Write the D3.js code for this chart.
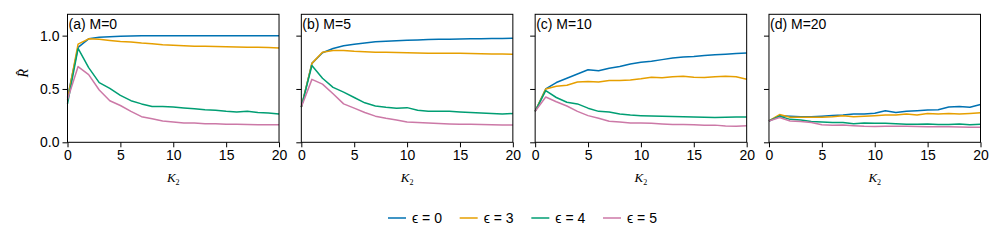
<!DOCTYPE html>
<html>
<head>
<meta charset="utf-8">
<script src="https://cdn.jsdelivr.net/npm/d3@7"></script>
<style>
  body { margin: 0; background: #fff; }
  text { font-family: "Liberation Sans", Arial, sans-serif; }
</style>
</head>
<body>
<svg id="chart" width="996" height="249"></svg>
<script>
// K2 values
var k2 = d3.range(0, 21);

var panelTitles = ["(a) M=0", "(b) M=5", "(c) M=10", "(d) M=20"];
var seriesNames = ["ϵ = 0", "ϵ = 3", "ϵ = 4", "ϵ = 5"];
var colors = ["#0072B2", "#E69F00", "#009E73", "#CC79A7"];
var xTicks = [0, 5, 10, 15, 20];
var yTicks = [0.0, 0.5, 1.0];

// panel (a) M=0
var a_eps0 = [0.42, 0.89, 0.97, 0.985, 0.99, 0.995, 0.997, 0.998, 0.999, 1.0, 1.0, 1.0, 1.0, 1.0, 1.0, 1.0, 1.0, 1.0, 1.0, 1.0, 1.0];
var a_eps3 = [0.40, 0.92, 0.97, 0.965, 0.955, 0.945, 0.94, 0.93, 0.925, 0.915, 0.91, 0.905, 0.90, 0.90, 0.897, 0.895, 0.893, 0.89, 0.89, 0.888, 0.885];
var a_eps4 = [0.36, 0.88, 0.70, 0.56, 0.505, 0.44, 0.39, 0.36, 0.335, 0.335, 0.33, 0.322, 0.315, 0.305, 0.30, 0.29, 0.285, 0.29, 0.28, 0.275, 0.265];
var a_eps5 = [0.40, 0.71, 0.635, 0.49, 0.39, 0.345, 0.29, 0.24, 0.22, 0.20, 0.19, 0.182, 0.18, 0.175, 0.175, 0.17, 0.17, 0.168, 0.165, 0.165, 0.165];

// panel (b) M=5
var b_eps0 = [0.33, 0.74, 0.84, 0.88, 0.905, 0.92, 0.932, 0.942, 0.948, 0.953, 0.957, 0.96, 0.963, 0.965, 0.967, 0.968, 0.97, 0.971, 0.972, 0.973, 0.975];
var b_eps3 = [0.33, 0.74, 0.845, 0.86, 0.86, 0.853, 0.85, 0.845, 0.845, 0.843, 0.84, 0.838, 0.835, 0.835, 0.835, 0.834, 0.832, 0.83, 0.828, 0.827, 0.825];
var b_eps4 = [0.33, 0.72, 0.60, 0.515, 0.47, 0.42, 0.37, 0.34, 0.328, 0.32, 0.325, 0.30, 0.29, 0.29, 0.292, 0.285, 0.28, 0.275, 0.27, 0.265, 0.27];
var b_eps5 = [0.33, 0.59, 0.545, 0.455, 0.36, 0.32, 0.28, 0.245, 0.225, 0.21, 0.19, 0.186, 0.18, 0.176, 0.172, 0.17, 0.17, 0.168, 0.165, 0.163, 0.163];

// panel (c) M=10
var c_eps0 = [0.29, 0.50, 0.56, 0.60, 0.64, 0.68, 0.67, 0.695, 0.71, 0.735, 0.75, 0.76, 0.775, 0.79, 0.80, 0.805, 0.813, 0.82, 0.826, 0.832, 0.837];
var c_eps3 = [0.29, 0.50, 0.525, 0.535, 0.565, 0.57, 0.565, 0.58, 0.58, 0.585, 0.595, 0.61, 0.605, 0.615, 0.62, 0.61, 0.607, 0.615, 0.62, 0.615, 0.592];
var c_eps4 = [0.29, 0.485, 0.42, 0.375, 0.36, 0.32, 0.29, 0.285, 0.265, 0.255, 0.25, 0.246, 0.244, 0.242, 0.24, 0.238, 0.235, 0.232, 0.235, 0.237, 0.237];
var c_eps5 = [0.29, 0.425, 0.38, 0.34, 0.29, 0.25, 0.225, 0.197, 0.19, 0.182, 0.18, 0.178, 0.172, 0.166, 0.166, 0.165, 0.161, 0.161, 0.152, 0.151, 0.155];

// panel (d) M=20
var d_eps0 = [0.20, 0.25, 0.245, 0.24, 0.24, 0.245, 0.252, 0.256, 0.266, 0.266, 0.272, 0.295, 0.28, 0.292, 0.296, 0.302, 0.305, 0.33, 0.336, 0.328, 0.355];
var d_eps3 = [0.20, 0.26, 0.235, 0.235, 0.235, 0.236, 0.24, 0.25, 0.24, 0.245, 0.25, 0.255, 0.256, 0.265, 0.255, 0.27, 0.265, 0.27, 0.265, 0.27, 0.277];
var d_eps4 = [0.20, 0.245, 0.215, 0.21, 0.195, 0.19, 0.185, 0.185, 0.175, 0.18, 0.178, 0.178, 0.175, 0.17, 0.17, 0.172, 0.168, 0.168, 0.172, 0.165, 0.17];
var d_eps5 = [0.20, 0.232, 0.20, 0.195, 0.185, 0.165, 0.16, 0.162, 0.155, 0.15, 0.148, 0.15, 0.15, 0.15, 0.148, 0.145, 0.145, 0.145, 0.143, 0.14, 0.14];

var panelData = [
  [a_eps0, a_eps3, a_eps4, a_eps5],
  [b_eps0, b_eps3, b_eps4, b_eps5],
  [c_eps0, c_eps3, c_eps4, c_eps5],
  [d_eps0, d_eps3, d_eps4, d_eps5]
];

var svg = d3.select("#chart");

var plotLeft = 67.5, plotRight = 980.5, plotTop = 14.3, plotBottom = 142.3;
var gap = 22.3;
var panelW = (plotRight - plotLeft - 3 * gap) / 4;
var serif = '"Liberation Serif", "DejaVu Serif", serif';

var y = d3.scaleLinear().domain([0, 1.2]).range([plotBottom, plotTop]);

panelData.forEach(function(series, i) {
  var x0 = plotLeft + i * (panelW + gap);
  var x = d3.scaleLinear().domain([0, 20]).range([x0, x0 + panelW]);
  var g = svg.append("g");

  // lines
  var line = d3.line().x((d, j) => x(k2[j])).y(d => y(d));
  series.forEach(function(vals, s) {
    g.append("path")
      .datum(vals)
      .attr("fill", "none")
      .attr("stroke", colors[s])
      .attr("stroke-width", 1.5)
      .attr("stroke-linejoin", "round")
      .attr("d", line);
  });

  // frame
  g.append("rect")
    .attr("x", x0).attr("y", plotTop)
    .attr("width", panelW).attr("height", plotBottom - plotTop)
    .attr("fill", "none").attr("stroke", "#000").attr("stroke-width", 1);

  // x axis
  var xa = g.append("g")
    .attr("transform", "translate(0," + plotBottom + ")")
    .call(d3.axisBottom(x).tickValues(xTicks).tickSize(5).tickPadding(3).tickFormat(d3.format("d")));
  xa.select(".domain").remove();
  xa.selectAll("text").attr("font-size", 14).attr("fill", "#000");

  // y axis
  var ya = g.append("g")
    .attr("transform", "translate(" + x0 + ",0)")
    .call(d3.axisLeft(y).tickValues(yTicks).tickSize(5).tickPadding(3)
      .tickFormat(i === 0 ? d3.format(".1f") : ""));
  ya.select(".domain").remove();
  ya.selectAll("text").attr("font-size", 14).attr("fill", "#000");

  // title
  g.append("text")
    .attr("x", x0 + 1).attr("y", 29)
    .attr("font-size", 14)
    .text(panelTitles[i]);

  // x label K2
  var xl = g.append("text")
    .attr("x", x0 + panelW / 2).attr("y", 182)
    .attr("text-anchor", "middle")
    .style("font-family", serif)
    .style("font-style", "italic")
    .attr("font-size", 13);
  xl.append("tspan").text("K");
  xl.append("tspan").attr("font-size", 8).attr("dy", 2.5).style("font-style", "normal").text("2");
});

// y label R-hat
svg.append("text")
  .attr("transform", "translate(28," + ((plotTop + plotBottom) / 2 - 5) + ") rotate(-90)")
  .attr("text-anchor", "middle")
  .style("font-family", serif)
  .style("font-style", "italic")
  .attr("font-size", 14)
  .text("R\u0302");

// legend
var legendX = d3.scaleLinear().domain([0, 3]).range([388, 603]);
var leg = svg.append("g").selectAll("g").data(seriesNames).join("g")
  .attr("transform", (d, i) => "translate(" + legendX(i) + ",218)");
leg.append("line")
  .attr("x1", 0).attr("x2", 18)
  .attr("stroke", (d, i) => colors[i]).attr("stroke-width", 1.5);
leg.append("text")
  .attr("x", 24).attr("y", 5)
  .attr("font-size", 14)
  .text(d => d);
</script>
</body>
</html>
